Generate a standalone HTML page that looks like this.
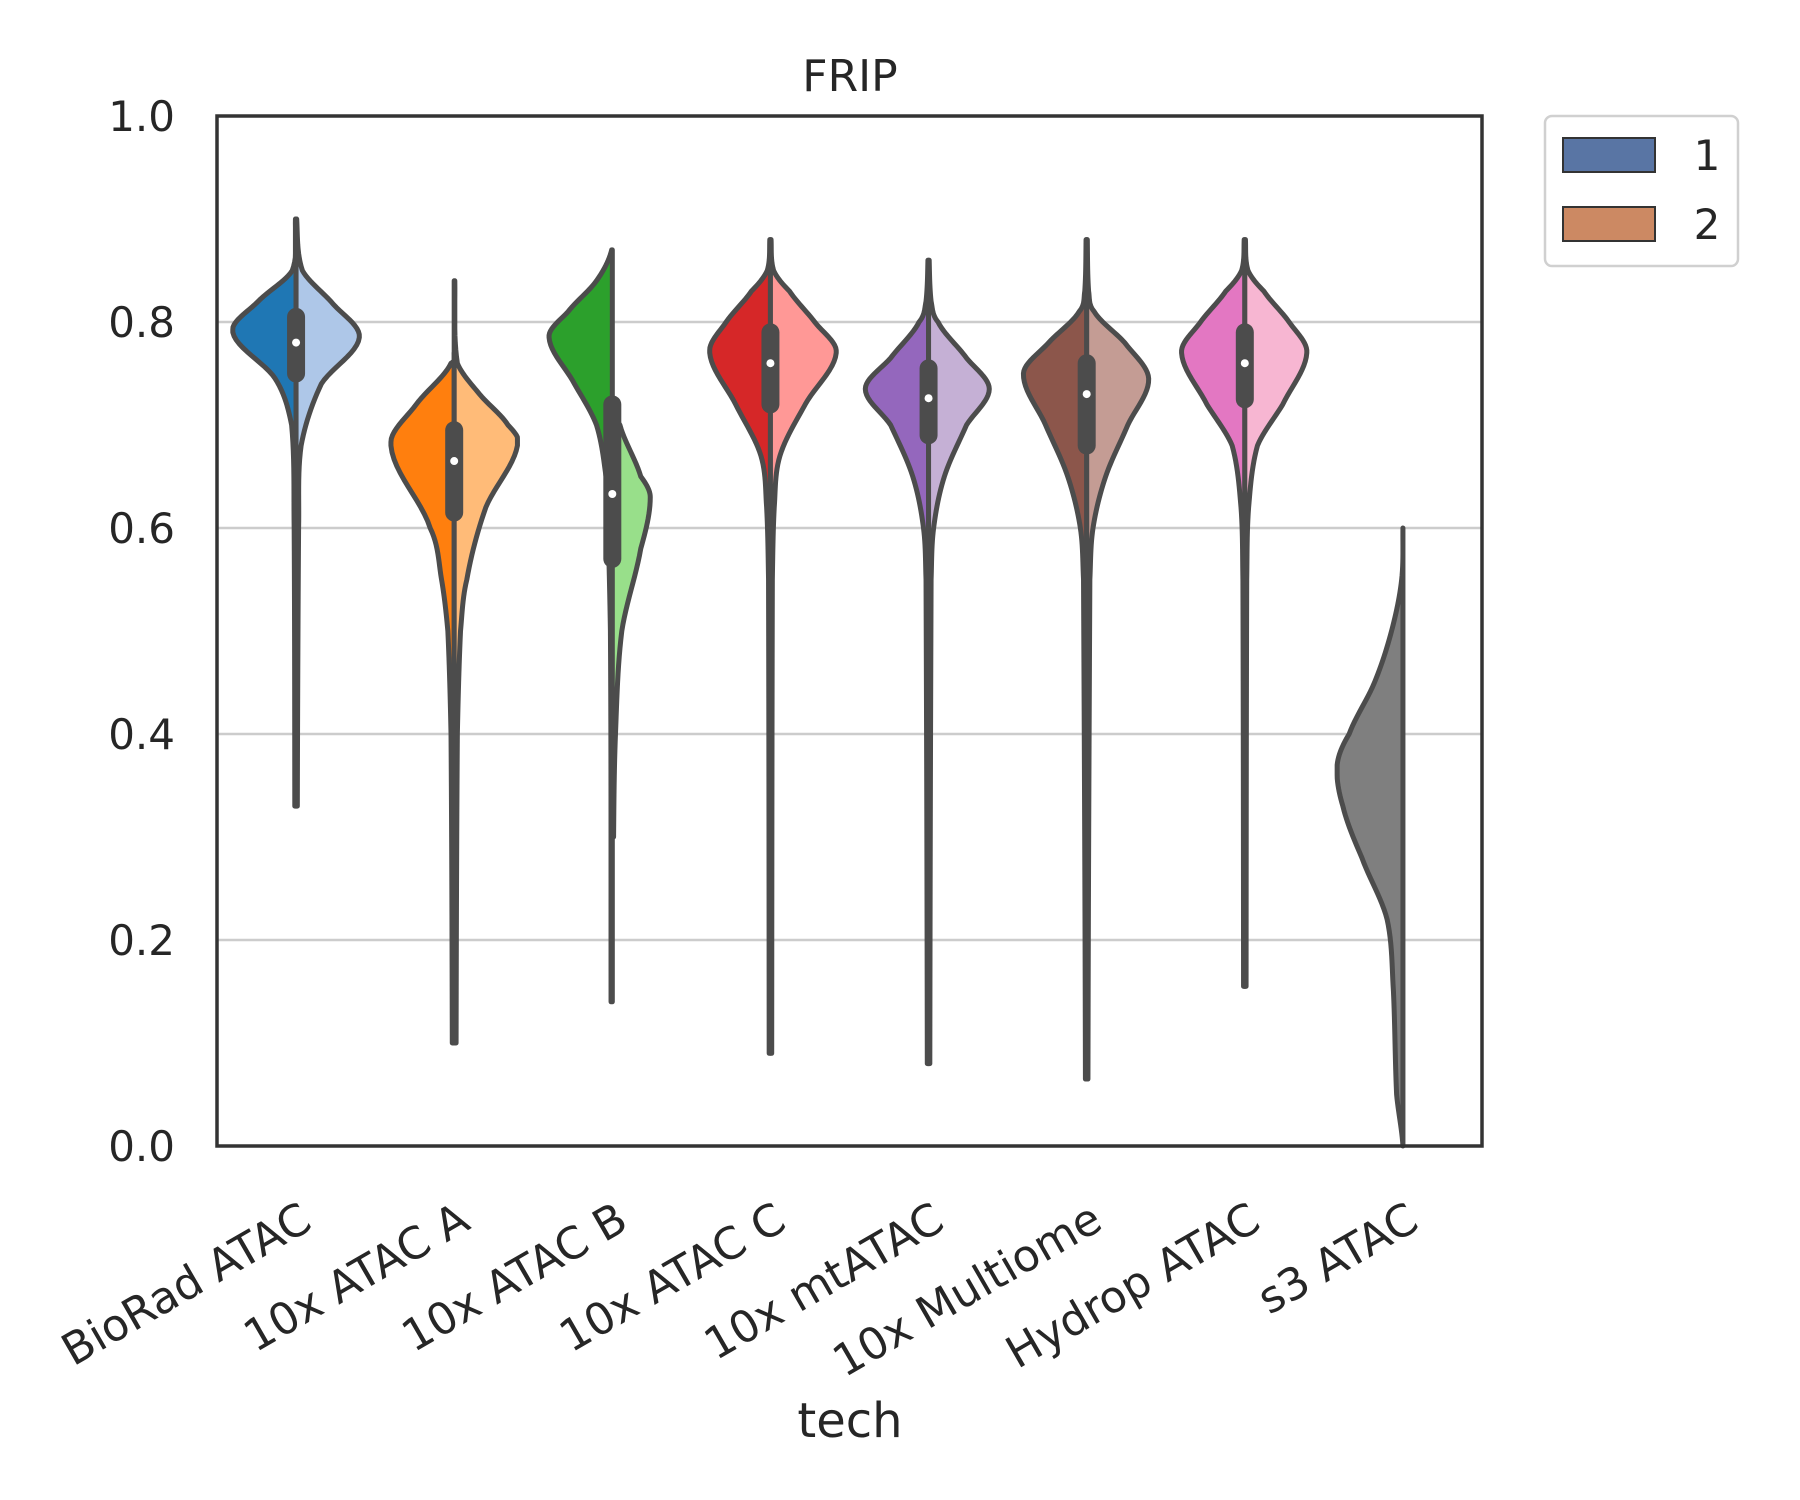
<!DOCTYPE html>
<html><head><meta charset="utf-8"><style>
html,body{margin:0;padding:0;background:#fff}
svg{display:block;font-family:"DejaVu Sans","Liberation Sans",sans-serif}
</style></head><body>
<svg id="chart" width="1800" height="1500" viewBox="0 0 1800 1500">
<rect x="0" y="0" width="1800" height="1500" fill="#fff"/>
<g id="grid"></g>
<g id="violins"></g>
<rect x="217" y="116" width="1265" height="1030" fill="none" stroke="#333" stroke-width="3.5"/>
<g id="yticks"></g>
<g id="xticks"></g>
<text x="850" y="91" font-size="44" fill="#262626" text-anchor="middle">FRIP</text>
<text x="850" y="1437" font-size="48" fill="#262626" text-anchor="middle">tech</text>
<g>
<rect x="1545" y="116" width="193" height="150" rx="7" fill="#fff" stroke="#d0d0d0" stroke-width="2.5"/>
<rect x="1563" y="138" width="92" height="34" fill="#5975a4" stroke="#333" stroke-width="2"/>
<text x="1707" y="170" font-size="42" fill="#262626" text-anchor="middle">1</text>
<rect x="1563" y="207" width="92" height="34" fill="#cc8963" stroke="#333" stroke-width="2"/>
<text x="1707" y="239" font-size="42" fill="#262626" text-anchor="middle">2</text>
</g>
</svg>
<script>
const categories = ["BioRad ATAC","10x ATAC A","10x ATAC B","10x ATAC C","10x mtATAC","10x Multiome","Hydrop ATAC","s3 ATAC"];
const yTicks = [0,0.2,0.4,0.6,0.8,1.0];
const yTickLabels = ["0.0","0.2","0.4","0.6","0.8","1.0"];
const colors1 = ["#1f77b4","#ff7f0e","#2ca02c","#d62728","#9467bd","#8c564b","#e377c2","#7f7f7f"];
const colors2 = ["#aec7e8","#ffbb78","#98df8a","#ff9896","#c5b0d5","#c49c94","#f7b6d2","#7f7f7f"];
// density profiles: [value, relative half-width]
const profile1 = [
 [[0.33,0.02],[0.6,0.03],[0.7,0.07],[0.745,0.33],[0.79,1.0],[0.82,0.6],[0.85,0.06],[0.9,0.01]],
 [[0.1,0.03],[0.4,0.05],[0.5,0.1],[0.55,0.2],[0.6,0.38],[0.68,1.0],[0.72,0.6],[0.76,0.05],[0.77,0.0]],
 [[0.14,0.02],[0.5,0.03],[0.65,0.1],[0.7,0.25],[0.74,0.6],[0.785,1.0],[0.81,0.7],[0.84,0.25],[0.87,0.01]],
 [[0.09,0.02],[0.55,0.03],[0.62,0.06],[0.67,0.15],[0.72,0.55],[0.77,0.96],[0.8,0.7],[0.83,0.3],[0.85,0.05],[0.88,0.01]],
 [[0.08,0.02],[0.55,0.04],[0.6,0.08],[0.65,0.25],[0.7,0.6],[0.735,1.0],[0.765,0.6],[0.8,0.15],[0.82,0.04],[0.86,0.01]],
 [[0.065,0.02],[0.55,0.05],[0.6,0.1],[0.65,0.3],[0.7,0.65],[0.75,1.0],[0.78,0.6],[0.81,0.12],[0.83,0.03],[0.88,0.01]],
 [[0.155,0.02],[0.55,0.03],[0.62,0.06],[0.68,0.2],[0.72,0.6],[0.77,1.0],[0.8,0.7],[0.83,0.3],[0.85,0.05],[0.88,0.01]],
 [[0.0,0.0],[0.05,0.1],[0.15,0.15],[0.22,0.25],[0.28,0.65],[0.33,0.95],[0.37,1.04],[0.4,0.85],[0.45,0.45],[0.5,0.18],[0.55,0.02],[0.6,0.0]]
];
const profile2 = [
 [[0.33,0.02],[0.6,0.04],[0.68,0.08],[0.74,0.4],[0.785,1.0],[0.82,0.55],[0.85,0.1],[0.9,0.01]],
 [[0.1,0.03],[0.4,0.05],[0.5,0.1],[0.55,0.2],[0.62,0.5],[0.68,1.0],[0.7,0.85],[0.73,0.4],[0.76,0.05],[0.84,0.01]],
 [[0.3,0.02],[0.4,0.05],[0.5,0.15],[0.58,0.45],[0.63,0.6],[0.65,0.45],[0.7,0.12],[0.72,0.0]],
 [[0.09,0.02],[0.55,0.03],[0.62,0.06],[0.67,0.15],[0.72,0.55],[0.77,1.04],[0.8,0.7],[0.83,0.3],[0.85,0.05],[0.88,0.01]],
 [[0.08,0.02],[0.55,0.04],[0.6,0.08],[0.65,0.25],[0.7,0.6],[0.735,0.96],[0.765,0.6],[0.8,0.15],[0.82,0.04],[0.86,0.01]],
 [[0.065,0.02],[0.55,0.05],[0.6,0.1],[0.65,0.3],[0.7,0.65],[0.745,0.98],[0.78,0.6],[0.81,0.12],[0.83,0.03],[0.88,0.01]],
 [[0.155,0.02],[0.55,0.03],[0.62,0.06],[0.68,0.2],[0.72,0.6],[0.77,0.98],[0.8,0.7],[0.83,0.3],[0.85,0.05],[0.88,0.01]],
 null
];
const boxQ1 = [0.75,0.615,0.57,0.72,0.69,0.68,0.725,null];
const boxQ3 = [0.805,0.695,0.72,0.79,0.755,0.76,0.79,null];
const medians = [0.78,0.665,0.633,0.76,0.726,0.73,0.76,null];

const NS="http://www.w3.org/2000/svg";
const L=217,R=1482,T=116,B=1146;
const band=(R-L)/categories.length, HW=band*0.4;
const yS=v=>B-(v-0)/(1-0)*(B-T);
const xS=i=>L+band*(i+0.5);
function mk(tag,attrs,parent){const e=document.createElementNS(NS,tag);for(const k in attrs)e.setAttribute(k,attrs[k]);parent.appendChild(e);return e;}
const grid=document.getElementById('grid'),yt=document.getElementById('yticks'),xt=document.getElementById('xticks'),vg=document.getElementById('violins');
yTicks.forEach((v,i)=>{
 if(v>0&&v<1){const g=mk('line',{x1:L,x2:R,y1:yS(v),y2:yS(v),stroke:'#cccccc','stroke-width':2.5},grid);
  
  }
 const t=mk('text',{x:L-42,y:yS(v)+15,'font-size':42,fill:'#262626','text-anchor':'end'},yt);
 t.textContent=yTickLabels[i];
 
 
});
categories.forEach((c,i)=>{
 const t=mk('text',{transform:`translate(${xS(i)+2},${1200}) rotate(-30)`,'font-size':44,fill:'#262626','text-anchor':'end','dominant-baseline':'hanging'},xt);
 t.textContent=c;
 
 
});
function sample(p){
 const out=[];
 for(let k=0;k<p.length-1;k++){
  const p0=p[Math.max(0,k-1)],p1=p[k],p2=p[k+1],p3=p[Math.min(p.length-1,k+2)];
  for(let s=0;s<12;s++){const t=s/12,t2=t*t,t3=t2*t;
   const f=(a,b,c,d)=>0.5*(2*b+(-a+c)*t+(2*a-5*b+4*c-d)*t2+(-a+3*b-3*c+d)*t3);
   let w=f(p0[1],p1[1],p2[1],p3[1]);
   w=Math.min(Math.max(w,Math.min(p1[1],p2[1])),Math.max(p1[1],p2[1]));
   out.push([p1[0]+(p2[0]-p1[0])*t,w]);}
 }
 out.push(p[p.length-1]);return out;
}
function half(i,p,dir,fill,name){
 const cx=xS(i),pts=sample(p);
 let d=`M${cx},${yS(pts[0][0])}`;
 pts.forEach(q=>{d+=`L${cx+dir*q[1]*HW},${yS(q[0])}`;});
 d+=`L${cx},${yS(pts[pts.length-1][0])}Z`;
 const e=mk('path',{d,fill,stroke:'#4c4c4c','stroke-width':5,'stroke-linejoin':'round'},vg);
 
 
}
categories.forEach((c,i)=>{
 const slug=c.toLowerCase().replace(/\s+/g,'-');
 half(i,profile1[i],-1,colors1[i],'violin-'+slug+'-1');
 if(profile2[i]) half(i,profile2[i],1,colors2[i],'violin-'+slug+'-2');
 if(boxQ1[i]!==null){
  const cx=xS(i);
  const b=mk('line',{x1:cx,x2:cx,y1:yS(boxQ1[i]),y2:yS(boxQ3[i]),stroke:'#4c4c4c','stroke-width':18,'stroke-linecap':'round'},vg);
  
  
  const m=mk('circle',{cx,cy:yS(medians[i]),r:4,fill:'#fff'},vg);
  
  
 }
});
</script>
</body></html>
